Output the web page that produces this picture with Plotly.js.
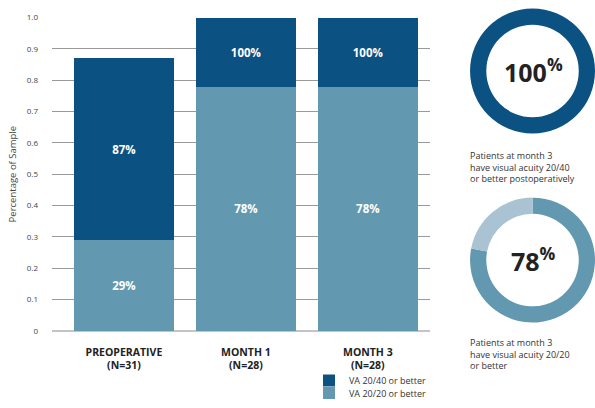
<!DOCTYPE html>
<html>
<head>
<meta charset="utf-8">
<script src="https://cdn.plot.ly/plotly-3.0.1.min.js"></script>
<style>html,body{margin:0;padding:0;background:#fff;}#chart{width:595px;height:408px;}</style>
</head>
<body>
<div id="chart"></div>
<script>
// ---- data ----
var categories = ['Preoperative', 'Month 1', 'Month 3'];
var tickLabels = ['PREOPERATIVE<br>(N=31)', 'MONTH 1<br>(N=28)', 'MONTH 3<br>(N=28)'];
var va2020 = [0.29, 0.78, 0.78];   // VA 20/20 or better
var va2040 = [0.87, 1.00, 1.00];   // VA 20/40 or better (cumulative)
var yTickVals = [0, 0.1, 0.2, 0.3, 0.4, 0.5, 0.6, 0.7, 0.8, 0.9, 1.0];
var yTickText = ['0', '0.1', '0.2', '0.3', '0.4', '0.5', '0.6', '0.7', '0.8', '0.9', '1.0'];
var donut1Values = [1.00, 0.00];   // month 3, 20/40 or better
var donut2Values = [0.78, 0.22];   // month 3, 20/20 or better
var seriesNames = ['VA 20/20 or better', 'VA 20/40 or better'];

var DARK = '#0b5283', LIGHT = '#6399b0', PALE = '#a9c3d3';
var FONT = '"Open Sans", Lato, sans-serif';

function pct(v) { return Math.round(v * 100) + '%'; }

var darkPart = va2040.map(function (v, i) { return v - va2020[i]; });

var traces = [
  {
    type: 'bar', x: categories, y: va2020, name: seriesNames[0],
    marker: {color: LIGHT, line: {width: 0}},
    text: va2020.map(pct), textposition: 'inside', insidetextanchor: 'middle', textangle: 0,
    insidetextfont: {family: FONT, size: 11.5, color: '#ffffff', weight: 700},
    width: 0.82, legend: 'legend2', hoverinfo: 'skip'
  },
  {
    type: 'bar', x: categories, y: darkPart, name: seriesNames[1],
    marker: {color: DARK, line: {width: 0}},
    text: va2040.map(pct), textposition: 'inside', insidetextanchor: 'middle', textangle: 0,
    insidetextfont: {family: FONT, size: 11.5, color: '#ffffff', weight: 700},
    width: 0.82, legend: 'legend', hoverinfo: 'skip'
  },
  {
    type: 'pie', values: donut1Values, labels: ['a', 'b'], hole: 0.74, sort: false,
    direction: 'clockwise', rotation: 0, textinfo: 'none', showlegend: false,
    marker: {colors: [DARK, '#ffffff'], line: {width: 0}},
    domain: {x: [0.79, 1.0], y: [0.672, 0.98]}, hoverinfo: 'skip'
  },
  {
    type: 'pie', values: donut2Values, labels: ['c', 'd'], hole: 0.74, sort: false,
    direction: 'clockwise', rotation: 0, textinfo: 'none', showlegend: false,
    marker: {colors: [LIGHT, PALE], line: {width: 0}},
    domain: {x: [0.79, 1.0], y: [0.208, 0.517]}, hoverinfo: 'skip'
  }
];

var layout = {
  width: 595, height: 408,
  margin: {l: 0, r: 0, t: 0, b: 0},
  paper_bgcolor: '#ffffff', plot_bgcolor: '#ffffff',
  font: {family: FONT, color: '#333333'},
  barmode: 'stack', bargap: 0,
  xaxis: {
    domain: [52 / 595, 430 / 595], type: 'category', automargin: false,
    range: [-0.59, 2.51], tickvals: categories, ticktext: tickLabels,
    showgrid: false, zeroline: false, showline: false, ticks: '',
    ticklabelstandoff: 13,
    tickfont: {family: FONT, size: 10.5, color: '#222222', weight: 700}
  },
  yaxis: {
    domain: [77 / 408, 390.7 / 408], range: [0, 1.001], automargin: false,
    tickvals: yTickVals, ticktext: yTickText,
    showgrid: true, gridcolor: '#9a9a9a', gridwidth: 1,
    zeroline: true, zerolinecolor: '#c4c4c4', zerolinewidth: 2,
    showline: false, ticks: '', ticklabelstandoff: 13,
    tickfont: {family: FONT, size: 8, color: '#444444'},
    title: {text: 'Percentage of Sample', font: {family: FONT, size: 9.5, color: '#444444'}, standoff: 8}
  },
  legend: {
    x: 309 / 595, y: 13 / 408, xanchor: 'left', yanchor: 'bottom',
    font: {family: FONT, size: 9, color: '#333333'}, bgcolor: 'rgba(0,0,0,0)',
    itemwidth: 30, tracegroupgap: 0
  },
  legend2: {
    x: 309 / 595, y: 0.5 / 408, xanchor: 'left', yanchor: 'bottom',
    font: {family: FONT, size: 9, color: '#333333'}, bgcolor: 'rgba(0,0,0,0)',
    itemwidth: 30, tracegroupgap: 0
  },
  annotations: [
    {xref: 'paper', yref: 'paper', x: 533 / 595, y: 1 - 70 / 408, xanchor: 'center', yanchor: 'middle',
     showarrow: false, text: '100<sup>%</sup>', font: {family: FONT, size: 25, color: '#222222', weight: 700}},
    {xref: 'paper', yref: 'paper', x: 533 / 595, y: 1 - 259 / 408, xanchor: 'center', yanchor: 'middle',
     showarrow: false, text: '78<sup>%</sup>', font: {family: FONT, size: 25, color: '#222222', weight: 700}},
    {xref: 'paper', yref: 'paper', x: 468 / 595, y: 1 - 147 / 408, xanchor: 'left', yanchor: 'top', align: 'left',
     showarrow: false, text: 'Patients at month 3<br>have visual acuity 20/40<br>or better postoperatively',
     font: {family: FONT, size: 9, color: '#333333'}},
    {xref: 'paper', yref: 'paper', x: 468 / 595, y: 1 - 334 / 408, xanchor: 'left', yanchor: 'top', align: 'left',
     showarrow: false, text: 'Patients at month 3<br>have visual acuity 20/20<br>or better',
     font: {family: FONT, size: 9, color: '#333333'}}
  ]
};

Plotly.newPlot('chart', traces, layout, {displayModeBar: false, staticPlot: true});
</script>
</body>
</html>
